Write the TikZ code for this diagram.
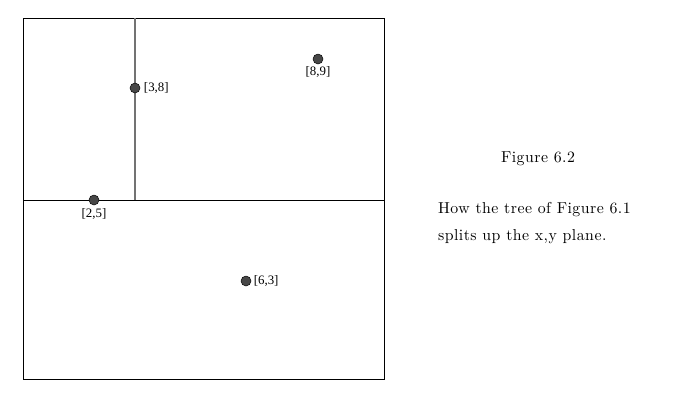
\documentclass[tikz,border=0pt]{standalone}
\usepackage{fontspec}
\newfontfamily\labelfont{Liberation Serif}
\newfontfamily\capfont{lmroman10-regular}[Extension=.otf,LetterSpace=3]
\usetikzlibrary{positioning}
\tikzset{
    pt/.style={circle,fill=black!72,draw=black,line width=0.4pt,inner sep=0pt,minimum size=0.3cm},
    ptlabel/.style={font=\labelfont\fontsize{11}{12}\selectfont,inner sep=1pt},
    captext/.style={font=\capfont\fontsize{13.5}{15}\selectfont}
}
\begin{document}
\begin{tikzpicture}[x=0.03cm,y=-0.03cm]
        \useasboundingbox (0,0) rectangle (695,411);
        \draw[thin] (23,18) rectangle (384,379); % plane
        \draw[thin] (23,200) -- (384,200); % first split
        \draw[black!55,line width=1pt] (135,18) -- (135,200); % second split

        \node(p25)[pt] at (94,200) {};
        \node(p38)[pt] at (135,88) {};
        \node(p89)[pt] at (318,59) {};
        \node(p63)[pt] at (246,281) {};

        \node(l25)[ptlabel,below=2pt of p25] {[2,5]};
        \node(l38)[ptlabel,right=2pt of p38] {[3,8]};
        \node(l89)[ptlabel,below=1pt of p89] {[8,9]};
        \node(l63)[ptlabel,right=1pt of p63] {[6,3]};

        \node(fig)[captext] at (538,159) {Figure 6.2};
        \node(cap)[captext,align=left,anchor=west] at (434,223) {How the tree of Figure 6.1\\[8pt] splits up the x,y plane.};
\end{tikzpicture}
\end{document}
